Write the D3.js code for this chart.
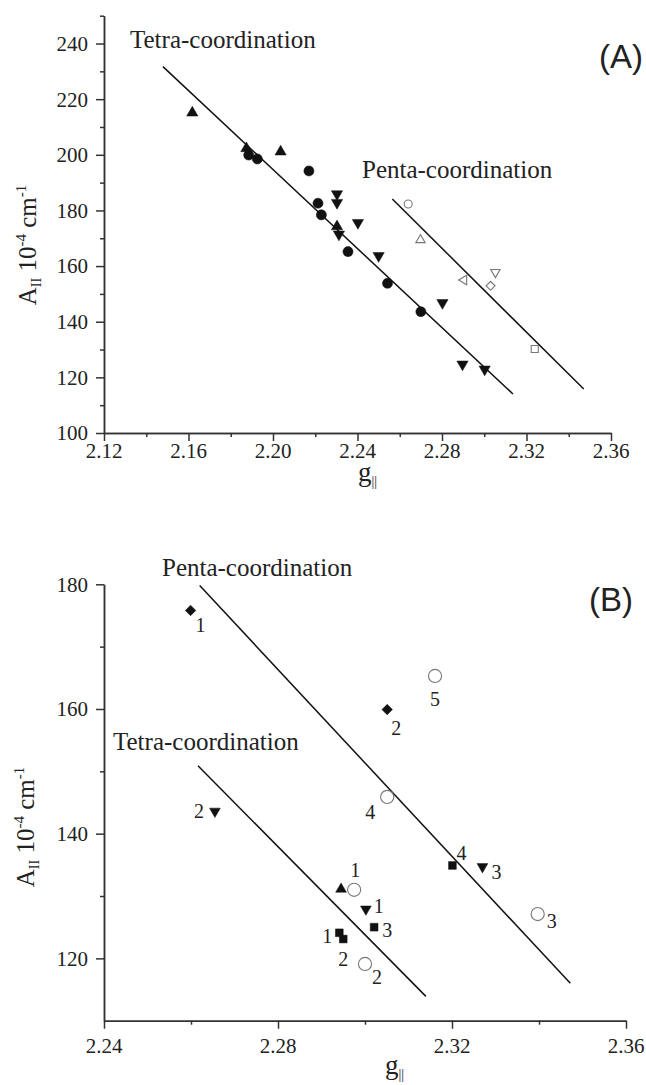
<!DOCTYPE html>
<html>
<head>
<meta charset="utf-8">
<script src="https://cdn.jsdelivr.net/npm/d3@7"></script>
<style>
  body { margin: 0; background: #fff; }
  svg text { font-family: "Liberation Serif", "Times New Roman", serif; fill: #222; }
</style>
</head>
<body>
<svg id="grafico" width="646" height="1085"></svg>
<script>
// ---------- dados painel A : [g||, A||] ----------
const ticksXA = [2.12, 2.16, 2.20, 2.24, 2.28, 2.32, 2.36];
const ticksXAmenor = [2.14, 2.18, 2.22, 2.26, 2.30, 2.34];
const ticksYA = [100, 120, 140, 160, 180, 200, 220, 240];
const ticksYAmenor = [110, 130, 150, 170, 190, 210, 230, 250];

const tetraCirculosA = [[2.1885, 199.9], [2.1926, 198.5], [2.217, 194.2], [2.2213, 182.6],
  [2.2229, 178.4], [2.2355, 165.2], [2.2542, 153.8], [2.270, 143.6]];
const tetraTriCimaA = [[2.1618, 215.1], [2.1874, 202.3], [2.2036, 201.1], [2.2303, 174.2]];
const tetraTriBaixoA = [[2.2303, 185.9], [2.2303, 182.8], [2.2402, 175.6], [2.2312, 171.4],
  [2.2500, 163.7], [2.2802, 146.8], [2.2897, 124.7], [2.3002, 122.9]];

const pentaCirculoA = [[2.264, 182.3]];
const pentaTriCimaA = [[2.2698, 169.4]];
const pentaTriEsqA = [[2.2904, 155.0]];
const pentaLosangoA = [[2.303, 152.9]];
const pentaTriBaixoA = [[2.3053, 157.8]];
const pentaQuadradoA = [[2.3239, 130.2]];

const retaTetraA = [[2.1479, 231.7], [2.3136, 114.0]];
const retaPentaA = [[2.2565, 184.1], [2.3471, 115.8]];

// ---------- dados painel B : [g||, A||, rotulo] ----------
const ticksXB = [2.24, 2.28, 2.32, 2.36];
const ticksXBmenor = [2.26, 2.30, 2.34];
const ticksYB = [120, 140, 160, 180];
const ticksYBmenor = [130, 150, 170];

const losangosB = [[2.2599, 175.8, "1"], [2.3051, 159.9, "2"]];
const circulosB = [[2.2975, 131.0, "1"], [2.3000, 119.1, "2"], [2.3397, 127.1, "3"],
  [2.3051, 145.9, "4"], [2.3161, 165.3, "5"]];
const triBaixoB = [[2.3002, 127.9, "1"], [2.2655, 143.6, "2"], [2.3270, 134.7, "3"]];
const quadradosB = [[2.2941, 124.1, "1"], [2.2950, 123.1, "2"], [2.3021, 125.0, "3"],
  [2.3201, 134.9, "4"]];
const triCimaB = [[2.2945, 131.1, ""]];

const retaTetraB = [[2.2616, 150.9], [2.3140, 113.9]];
const retaPentaB = [[2.2620, 179.8], [2.3472, 116.0]];

// deslocamento dos rotulos (px) em relacao ao marcador
const desloc = {
  losangos: [[10, 15], [9, 18]],
  circulos: [[1, -20], [12, 13], [14, 7], [-17, 15], [0, 23]],
  triBaixo: [[13, -3], [-16, 0], [14, 5]],
  quadrados: [[-12, 3], [0, 20], [13, 3], [9, -12]]
};

const svg = d3.select("#grafico");

function desenharEixos(cfg) {
  const g = svg.append("g");
  const y0 = cfg.y.range()[0];
  const x0 = cfg.x.range()[0];
  const eixos = [
    [d3.axisBottom(cfg.x).tickValues(cfg.ticksX).tickSize(8), `translate(0,${y0})`],
    [d3.axisBottom(cfg.x).tickValues(cfg.ticksXm).tickSize(4), `translate(0,${y0})`],
    [d3.axisLeft(cfg.y).tickValues(cfg.ticksY).tickSize(8), `translate(${x0},0)`],
    [d3.axisLeft(cfg.y).tickValues(cfg.ticksYm).tickSize(4), `translate(${x0},0)`]
  ];
  eixos.forEach(([ax, tr]) => {
    const e = g.append("g").attr("transform", tr)
      .call(ax.tickFormat("").tickSizeOuter(0));
    e.selectAll("text").remove();
    e.selectAll("path, line").style("stroke", "#333").style("stroke-width", 1.5);
  });

  // rotulos dos ticks (serifados)
  g.append("g").selectAll("text").data(cfg.ticksX).enter().append("text")
    .attr("x", d => cfg.x(d))
    .attr("y", y0 + cfg.padX)
    .attr("dy", "0.71em")
    .attr("text-anchor", "middle")
    .style("font-size", "21px")
    .text(d3.format(".2f"));

  g.append("g").selectAll("text").data(cfg.ticksY).enter().append("text")
    .attr("x", x0 - 16)
    .attr("y", d => cfg.y(d))
    .attr("dy", "0.35em")
    .attr("text-anchor", "end")
    .style("font-size", "21px")
    .text(d => d);
}

function desenharReta(cfg, pontos) {
  svg.append("line")
    .attr("x1", cfg.x(pontos[0][0])).attr("y1", cfg.y(pontos[0][1]))
    .attr("x2", cfg.x(pontos[1][0])).attr("y2", cfg.y(pontos[1][1]))
    .style("stroke", "#111").style("stroke-width", 1.5);
}

function desenharMarcadores(cfg, dados, forma, tamanho, rot, cheio) {
  svg.append("g").selectAll("path").data(dados).enter().append("path")
    .attr("d", d3.symbol().type(forma).size(tamanho))
    .attr("transform", d => `translate(${cfg.x(d[0])},${cfg.y(d[1])}) rotate(${rot})`)
    .style("fill", cheio ? "#111" : "none")
    .style("stroke", cheio ? "#111" : "#777")
    .style("stroke-width", cheio ? 0.5 : 1.1);
}

function desenharRotulos(cfg, dados, offs) {
  svg.append("g").selectAll("text").data(dados).enter().append("text")
    .attr("x", (d, i) => cfg.x(d[0]) + offs[i][0])
    .attr("y", (d, i) => cfg.y(d[1]) + offs[i][1])
    .attr("dy", "0.35em")
    .attr("text-anchor", "middle")
    .style("font-size", "20px")
    .text(d => d[2]);
}

function rotuloY(x, y) {
  const t = svg.append("text")
    .attr("transform", `translate(${x},${y}) rotate(-90)`)
    .attr("text-anchor", "middle")
    .style("font-size", "25px");
  t.append("tspan").text("A");
  t.append("tspan").attr("dy", 5).style("font-size", "14px").text("II");
  t.append("tspan").attr("dy", -5).text(" 10");
  t.append("tspan").attr("dy", -10).style("font-size", "15px").text("-4");
  t.append("tspan").attr("dy", 10).text(" cm");
  t.append("tspan").attr("dy", -10).style("font-size", "15px").text("-1");
}

function rotuloX(x, y) {
  const t = svg.append("text").attr("x", x).attr("y", y).style("font-size", "27px");
  t.append("tspan").text("g");
  t.append("tspan").attr("dy", 5).style("font-size", "14px").text("||");
}

function textoAnot(x, y, txt, tam, sans, ancora) {
  svg.append("text").attr("x", x).attr("y", y)
    .attr("text-anchor", ancora || "start")
    .style("font-size", tam + "px")
    .style("font-family", sans ? '"Liberation Sans", Arial, sans-serif' : null)
    .text(txt);
}

// ---------- painel A ----------
const cfgA = {
  x: d3.scaleLinear().domain([2.12, 2.36]).range([104, 611]),
  y: d3.scaleLinear().domain([100, 250]).range([433, 15.7]),
  ticksX: ticksXA, ticksXm: ticksXAmenor, ticksY: ticksYA, ticksYm: ticksYAmenor, padX: 10
};
desenharEixos(cfgA);
desenharReta(cfgA, retaTetraA);
desenharReta(cfgA, retaPentaA);
desenharMarcadores(cfgA, tetraCirculosA, d3.symbolCircle, 80, 0, true);
desenharMarcadores(cfgA, tetraTriCimaA, d3.symbolTriangle, 55, 0, true);
desenharMarcadores(cfgA, tetraTriBaixoA, d3.symbolTriangle, 55, 180, true);
desenharMarcadores(cfgA, pentaCirculoA, d3.symbolCircle, 50, 0, false);
desenharMarcadores(cfgA, pentaTriCimaA, d3.symbolTriangle, 38, 0, false);
desenharMarcadores(cfgA, pentaTriEsqA, d3.symbolTriangle, 38, -90, false);
desenharMarcadores(cfgA, pentaLosangoA, d3.symbolSquare, 40, 45, false);
desenharMarcadores(cfgA, pentaTriBaixoA, d3.symbolTriangle, 38, 180, false);
desenharMarcadores(cfgA, pentaQuadradoA, d3.symbolSquare, 50, 0, false);
textoAnot(130, 48, "Tetra-coordination", 25);
textoAnot(362, 178, "Penta-coordination", 25);
textoAnot(643, 68, "(A)", 33, true, "end");
rotuloY(36, 245);
rotuloX(358, 481);

// ---------- painel B ----------
const cfgB = {
  x: d3.scaleLinear().domain([2.24, 2.36]).range([104, 626]),
  y: d3.scaleLinear().domain([110, 180]).range([1020.7, 584.3]),
  ticksX: ticksXB, ticksXm: ticksXBmenor, ticksY: ticksYB, ticksYm: ticksYBmenor, padX: 17
};
desenharEixos(cfgB);
desenharReta(cfgB, retaTetraB);
desenharReta(cfgB, retaPentaB);
desenharMarcadores(cfgB, losangosB, d3.symbolSquare, 55, 45, true);
desenharMarcadores(cfgB, circulosB, d3.symbolCircle, 135, 0, false);
desenharMarcadores(cfgB, triBaixoB, d3.symbolTriangle, 50, 180, true);
desenharMarcadores(cfgB, quadradosB, d3.symbolSquare, 60, 0, true);
desenharMarcadores(cfgB, triCimaB, d3.symbolTriangle, 50, 0, true);
desenharRotulos(cfgB, losangosB, desloc.losangos);
desenharRotulos(cfgB, circulosB, desloc.circulos);
desenharRotulos(cfgB, triBaixoB, desloc.triBaixo);
desenharRotulos(cfgB, quadradosB, desloc.quadrados);
textoAnot(162, 576, "Penta-coordination", 25);
textoAnot(113, 750, "Tetra-coordination", 25);
textoAnot(633, 611, "(B)", 33, true, "end");
rotuloY(34, 827);
rotuloX(385, 1074);
</script>
</body>
</html>
